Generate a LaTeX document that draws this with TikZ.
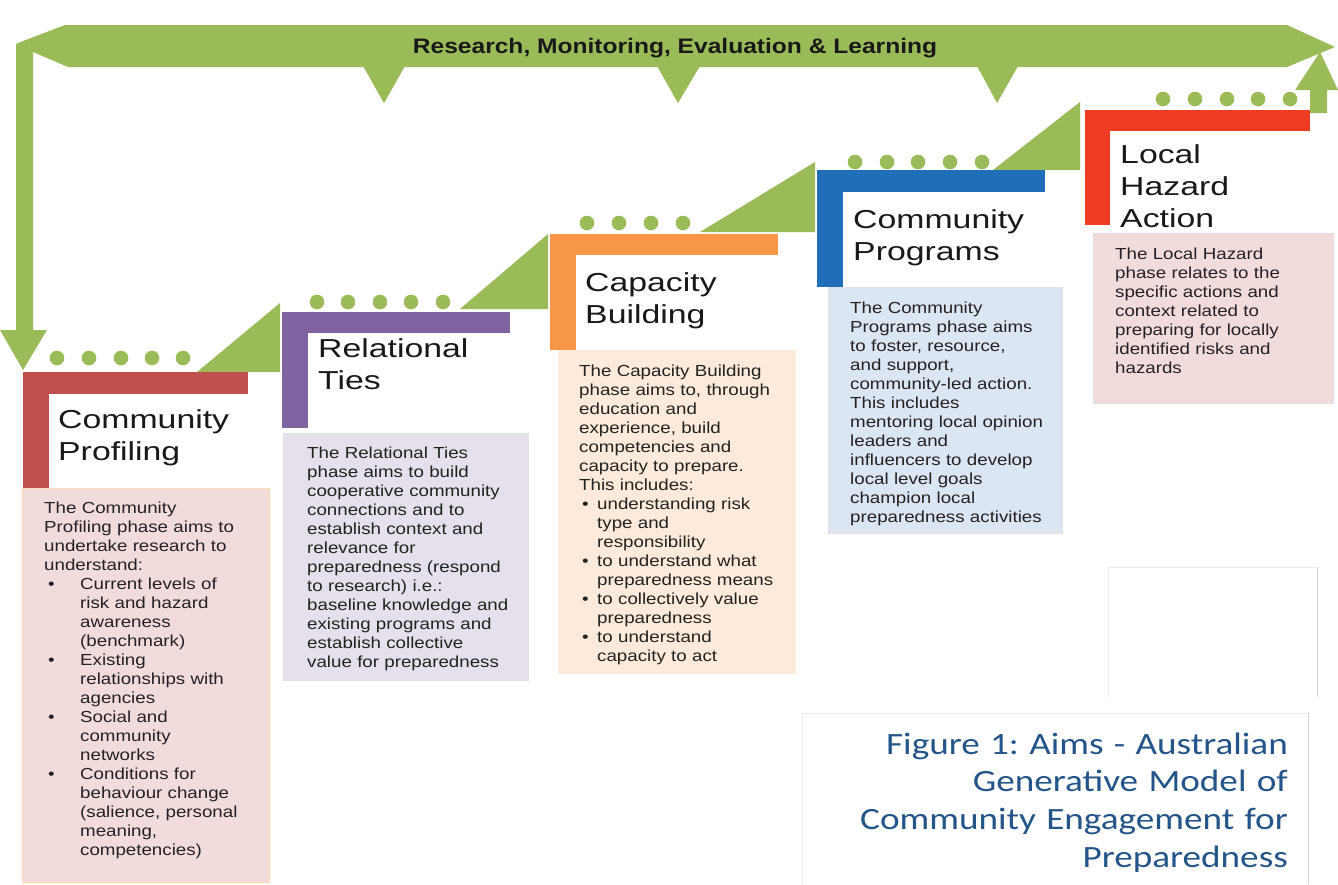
\documentclass[tikz,border=0pt]{standalone}
\usepackage{fontspec}
\setmainfont{Liberation Sans}
\newfontfamily\bodyf[FakeStretch=1.17]{Liberation Sans}
\newfontfamily\titlef[FakeStretch=1.3]{Liberation Sans}
\newfontfamily\capf[FakeStretch=1.2]{Carlito}
\definecolor{grn}{HTML}{9BBB59}
\definecolor{sA}{HTML}{C0504D}
\definecolor{sB}{HTML}{8064A2}
\definecolor{sC}{HTML}{F79646}
\definecolor{sD}{HTML}{1F6EB7}
\definecolor{sE}{HTML}{EE3B24}
\definecolor{fA}{HTML}{F2DCDB}
\definecolor{fB}{HTML}{E5E0EC}
\definecolor{fC}{HTML}{FDEADA}
\definecolor{fD}{HTML}{DCE6F2}
\definecolor{txt}{HTML}{222222}
\definecolor{capc}{HTML}{24558A}
\newcommand{\pbulA}{\hspace*{4pt}\makebox[32pt][l]{•}}
\newcommand{\pcontA}{\hspace*{36pt}}
\newcommand{\pbulB}{\hspace*{3pt}\makebox[15pt][l]{•}}
\newcommand{\pcontB}{\hspace*{18pt}}
\frenchspacing
\begin{document}
\begin{tikzpicture}[x=1pt,y=-1pt,
  bodytext/.style={anchor=base west,inner sep=0pt,text width=260pt,align=left,text=txt,font=\bodyf\fontsize{16}{19}\selectfont},
  titletext/.style={anchor=base west,inner sep=0pt,text width=260pt,align=left,text=black!90,font=\titlef\fontsize{26}{32}\selectfont},
  dot/.style={fill=grn},
  gshape/.style={fill=grn}]
\useasboundingbox (0,0) rectangle (1338,884);
\fill[white] (0,0) rectangle (1338,884);

% top elbow arrow
\fill[gshape] (65,25) -- (1287,25) -- (1335,47) -- (1287,67) -- (68,67) -- (33,52)
  -- (33,330) -- (47,330) -- (23,370) -- (0,330) -- (16,330) -- (16,44) -- (18,43) -- cycle;
% up arrow at right
\fill[gshape] (1310,113) -- (1310,90) -- (1295,90) -- (1320,52) -- (1338,90) -- (1327,90) -- (1327,113) -- cycle;
% hanging triangles
\fill[gshape] (363,66) -- (405,66) -- (384,103) -- cycle;
\fill[gshape] (657,66) -- (700,66) -- (678,103) -- cycle;
\fill[gshape] (977,66) -- (1018,66) -- (997,103) -- cycle;
\node[anchor=base,inner sep=0pt,font=\bodyf\fontsize{21}{24}\selectfont\bfseries,text=black!90] (rmel) at (675,53) {Research, Monitoring, Evaluation \& Learning};

% step connectors (green triangles)
\fill[gshape] (197,372) -- (280,372) -- (280,303) -- cycle;
\fill[gshape] (460,309) -- (548,309) -- (548,234) -- cycle;
\fill[gshape] (700,232) -- (815,232) -- (815,162) -- cycle;
\fill[gshape] (993,170) -- (1080,170) -- (1080,102) -- cycle;

% dots
\foreach \x in {57,89,121,152,183} \fill[dot] (\x,358) circle (7.3);
\foreach \x in {317,348,380,411,443} \fill[dot] (\x,302) circle (7.3);
\foreach \x in {587,619,651,683} \fill[dot] (\x,223) circle (7.3);
\foreach \x in {855,887,918,950,982} \fill[dot] (\x,162) circle (7.3);
\foreach \x in {1163,1195,1227,1258,1290} \fill[dot] (\x,99) circle (7.3);

% L-shaped step bars
\fill[sA] (23,372) rectangle (248,394); \fill[sA] (23,372) rectangle (49,488);
\fill[sB] (282,312) rectangle (510,333); \fill[sB] (282,312) rectangle (308,428);
\fill[sC] (550,234) rectangle (778,255); \fill[sC] (550,234) rectangle (576,350);
\fill[sD] (817,170) rectangle (1045,192); \fill[sD] (817,170) rectangle (843,287);
\fill[sE] (1085,110) rectangle (1310,131); \fill[sE] (1085,110) rectangle (1110,225);

% titles
\node[titletext] (t1) at (58,428) {Community\\Profiling};
\node[titletext] (t2) at (318,357) {Relational\\Ties};
\node[titletext] (t3) at (585,291) {Capacity\\Building};
\node[titletext] (t4) at (853,228) {Community\\Programs};
\node[titletext] (t5) at (1120,163) {Local\\Hazard\\Action};

% description boxes
\filldraw[fill=fA,draw=orange!30] (22,488) rectangle (269,882);
\filldraw[fill=fB,draw=black!12] (283,433) rectangle (528,680);
\filldraw[fill=fC,draw=orange!15] (558,350) rectangle (795,673);
\filldraw[fill=fD,draw=black!12] (828,287) rectangle (1062,533);
\filldraw[fill=fA,draw=black!12] (1093,233) rectangle (1333,403);

\node[bodytext] (d1) at (44,513) {The Community\\Profiling phase aims to\\undertake research to\\understand:\\
\pbulA Current levels of\\\pcontA risk and hazard\\\pcontA awareness\\\pcontA (benchmark)\\
\pbulA Existing\\\pcontA relationships with\\\pcontA agencies\\
\pbulA Social and\\\pcontA community\\\pcontA networks\\
\pbulA Conditions for\\\pcontA behaviour change\\\pcontA (salience, personal\\\pcontA meaning,\\\pcontA competencies)};

\node[bodytext] (d2) at (307,458) {The Relational Ties\\phase aims to build\\cooperative community\\connections and to\\establish context and\\relevance for\\preparedness (respond\\to research) i.e.:\\baseline knowledge and\\existing programs and\\establish collective\\value for preparedness};

\node[bodytext] (d3) at (579,376) {The Capacity Building\\phase aims to, through\\education and\\experience, build\\competencies and\\capacity to prepare.\\This includes:\\
\pbulB understanding risk\\\pcontB type and\\\pcontB responsibility\\
\pbulB to understand what\\\pcontB preparedness means\\
\pbulB to collectively value\\\pcontB preparedness\\
\pbulB to understand\\\pcontB capacity to act};

\node[bodytext] (d4) at (850,313) {The Community\\Programs phase aims\\to foster, resource,\\and support,\\community-led action.\\This includes\\mentoring local opinion\\leaders and\\influencers to develop\\local level goals\\champion local\\preparedness activities};

\node[bodytext] (d5) at (1115,259) {The Local Hazard\\phase relates to the\\specific actions and\\context related to\\preparing for locally\\identified risks and\\hazards};

% blank box and caption box
\draw[draw=black!8] (1108,697) -- (1108,567) -- (1317,567);
\draw[draw=black!18] (1317,567) -- (1317,697);
\draw[draw=black!8] (802,884) -- (802,713) -- (1308,713);
\draw[draw=black!18] (1308,713) -- (1308,884);
\node[anchor=base east,inner sep=0pt,text width=480pt,align=right,text=capc,font=\capf\fontsize{31}{37.7}\selectfont] (cap) at (1288,754) {Figure 1: Aims - Australian\\Generative Model of\\Community Engagement for\\Preparedness};
\end{tikzpicture}
\end{document}
